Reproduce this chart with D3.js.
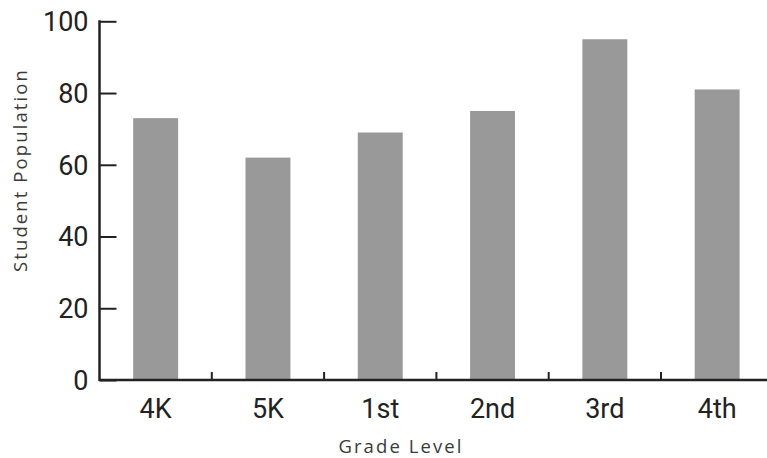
<!DOCTYPE html>
<html>
<head>
<meta charset="utf-8">
<script src="https://cdn.jsdelivr.net/npm/d3@7"></script>
<style>
  body { margin: 0; background: #fff; }
  svg { display: block; }
  .tick-label { font-family: Roboto, sans-serif; font-size: 27px; fill: #222; }
  .axis-title { font-family: "Open Sans", sans-serif; font-size: 18.5px; fill: #3a3a3a; letter-spacing: 2.1px; }
</style>
</head>
<body>
<div id="chart-area"></div>
<script>
const grades = ["4K", "5K", "1st", "2nd", "3rd", "4th"]
const population = [73, 62, 69, 75, 95, 81]
const yTicks = [0, 20, 40, 60, 80, 100]

const W = 767, H = 458
const LEFT = 99.5, BOTTOM = 380, TOP = 21.3
const STEP = 112.3

const svg = d3.select("#chart-area").append("svg")
  .attr("width", W)
  .attr("height", H)

const x = d3.scaleBand()
  .domain(grades)
  .range([LEFT, LEFT + STEP * grades.length])
  .padding(0)

const y = d3.scaleLinear()
  .domain([0, 100])
  .range([BOTTOM, TOP])

// bars
svg.selectAll("rect.bar")
  .data(grades)
  .enter().append("rect")
  .attr("class", "bar")
  .attr("x", (d) => x(d) + x.bandwidth() * 0.3)
  .attr("width", x.bandwidth() * 0.4)
  .attr("y", (d, i) => y(population[i]))
  .attr("height", (d, i) => BOTTOM - y(population[i]))
  .attr("fill", "#999999")

// y axis, ticks pointing inward
const yAxis = d3.axisRight(y)
  .tickValues(yTicks)
  .tickSize(17)
  .tickFormat("")
const yG = svg.append("g")
  .attr("transform", `translate(${LEFT}, 0)`)
  .call(yAxis)
yG.select(".domain").remove()
yG.selectAll(".tick line").attr("stroke", "#222").attr("stroke-width", 2)
yG.append("line")
  .attr("x1", 0).attr("x2", 0)
  .attr("y1", TOP - 1).attr("y2", BOTTOM + 1)
  .attr("stroke", "#222").attr("stroke-width", 2.5)

svg.append("g").selectAll("text")
  .data(yTicks)
  .enter().append("text")
  .attr("class", "tick-label")
  .attr("x", LEFT - 11)
  .attr("y", d => y(d))
  .attr("dy", "0.36em")
  .attr("text-anchor", "end")
  .text(d => d)

// x axis: ticks at band boundaries, pointing up
const xG = svg.append("g")
xG.append("line")
  .attr("x1", LEFT).attr("x2", W)
  .attr("y1", BOTTOM).attr("y2", BOTTOM)
  .attr("stroke", "#222").attr("stroke-width", 2.5)
xG.selectAll("line.tk")
  .data(grades.slice(1))
  .enter().append("line")
  .attr("class", "tk")
  .attr("x1", d => x(d)).attr("x2", d => x(d))
  .attr("y1", BOTTOM).attr("y2", BOTTOM - 8)
  .attr("stroke", "#222").attr("stroke-width", 2)

xG.selectAll("text")
  .data(grades)
  .enter().append("text")
  .attr("class", "tick-label")
  .attr("x", d => x(d) + x.bandwidth() / 2)
  .attr("y", 418)
  .attr("text-anchor", "middle")
  .text(d => d)

// axis titles
svg.append("text")
  .attr("class", "axis-title")
  .attr("x", 401)
  .attr("y", 453)
  .attr("text-anchor", "middle")
  .text("Grade Level")

svg.append("text")
  .attr("class", "axis-title")
  .attr("transform", "translate(27, 170) rotate(-90)")
  .attr("text-anchor", "middle")
  .text("Student Population")
</script>
</body>
</html>
